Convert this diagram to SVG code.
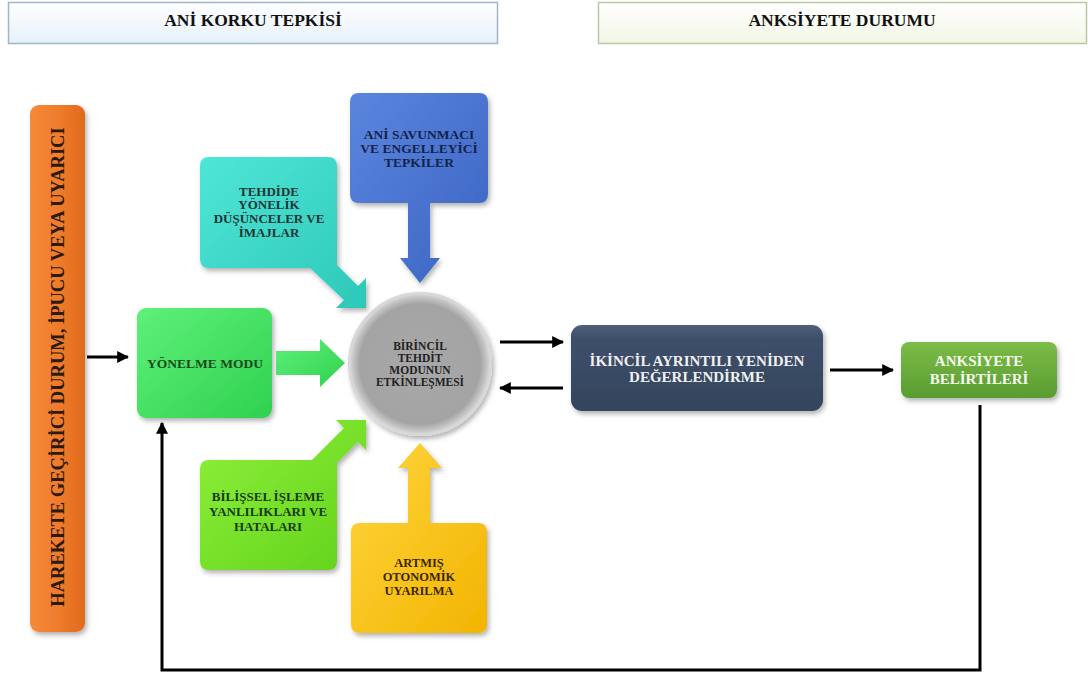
<svg xmlns="http://www.w3.org/2000/svg" width="1088" height="677" viewBox="0 0 1088 677">
<defs>
<style>
.t{font-family:"Liberation Serif","Times New Roman",serif;font-weight:bold;text-anchor:middle}
.hd{font-size:17.5px;fill:#111}
.sm{font-size:13px}
.ln{fill:none;stroke:#000;stroke-width:3}
</style>
<linearGradient id="gHdL" x1="0" y1="0" x2="0" y2="1"><stop offset="0" stop-color="#ffffff"/><stop offset="1" stop-color="#e6f0fa"/></linearGradient>
<linearGradient id="gHdR" x1="0" y1="0" x2="0" y2="1"><stop offset="0" stop-color="#ffffff"/><stop offset="1" stop-color="#f2f6e6"/></linearGradient>
<linearGradient id="gOr" x1="0" y1="0" x2="1" y2="0"><stop offset="0" stop-color="#f58a3c"/><stop offset="0.5" stop-color="#f07c2c"/><stop offset="1" stop-color="#e06a1c"/></linearGradient>
<linearGradient id="gGr" x1="0" y1="0" x2="1" y2="1"><stop offset="0" stop-color="#5ff07a"/><stop offset="1" stop-color="#2fd14f"/></linearGradient>
<linearGradient id="gTe" x1="0" y1="0" x2="1" y2="1"><stop offset="0" stop-color="#4fe6d6"/><stop offset="1" stop-color="#2cc8b8"/></linearGradient>
<linearGradient id="gBl" x1="0" y1="0" x2="1" y2="1"><stop offset="0" stop-color="#5b86de"/><stop offset="1" stop-color="#3a63c2"/></linearGradient>
<linearGradient id="gLi" x1="0" y1="0" x2="1" y2="1"><stop offset="0" stop-color="#8ef03c"/><stop offset="1" stop-color="#62d21a"/></linearGradient>
<linearGradient id="gYe" x1="0" y1="0" x2="1" y2="1"><stop offset="0" stop-color="#ffd640"/><stop offset="1" stop-color="#f2b400"/></linearGradient>
<linearGradient id="gSl" x1="0" y1="0" x2="0" y2="1"><stop offset="0" stop-color="#4d607c"/><stop offset="0.15" stop-color="#3e506b"/><stop offset="1" stop-color="#34445c"/></linearGradient>
<linearGradient id="gAn" x1="0" y1="0" x2="0" y2="1"><stop offset="0" stop-color="#7cbc48"/><stop offset="1" stop-color="#5a9c30"/></linearGradient>
<radialGradient id="gCi" cx="0.5" cy="0.5" r="0.5"><stop offset="0" stop-color="#a8a8a8"/><stop offset="0.85" stop-color="#a4a4a4"/><stop offset="0.95" stop-color="#c8c8c8"/><stop offset="1" stop-color="#e0e0e0"/></radialGradient>
<filter id="sh" x="-10%" y="-10%" width="130%" height="130%"><feDropShadow dx="2" dy="3" stdDeviation="2.5" flood-color="#000" flood-opacity="0.3"/></filter>
<marker id="ah" viewBox="0 0 10 10" refX="9" refY="5" markerWidth="4" markerHeight="4" orient="auto-start-reverse"><path d="M0,0 L10,5 L0,10 z" fill="#000"/></marker>
</defs>

<g id="header-left">
<rect x="8.5" y="2.5" width="489" height="41" fill="url(#gHdL)" stroke="#9fb6c8" stroke-width="1.5"/>
<text class="t hd" x="253" y="26">ANİ KORKU TEPKİSİ</text>
</g>
<g id="header-right">
<rect x="598.5" y="2.5" width="488" height="41" fill="url(#gHdR)" stroke="#b9c9a3" stroke-width="1.5"/>
<text class="t hd" x="842" y="26">ANKSİYETE DURUMU</text>
</g>

<g id="tetikleyici">
<rect x="30" y="105" width="55" height="527" rx="9" fill="url(#gOr)" filter="url(#sh)"/>
<text class="t" font-size="18.5" fill="#2a1a10" transform="translate(64,367) rotate(-90)">HAREKETE GEÇİRİCİ DURUM, İPUCU VEYA UYARICI</text>
</g>

<g id="yonelme">
<rect x="137" y="308" width="135" height="110" rx="9" fill="url(#gGr)" filter="url(#sh)"/>
<text class="t" font-size="13.5" fill="#1c4a1c" x="205" y="368">YÖNELME  MODU</text>
<polygon points="276,351 320,351 320,339 345,363 320,387 320,375 276,375" fill="url(#gGr)"/>
</g>

<g id="tehdide">
<path d="M209,157 H328 Q337,157 337,166 V265 L358,286 L366,278 V308 H336 L344,300 L310,268 H209 Q200,268 200,259 V166 Q200,157 209,157 Z" fill="url(#gTe)" filter="url(#sh)"/>
<g class="t sm" fill="#1d3434">
<text x="269" y="196">TEHDİDE</text>
<text x="269" y="209">YÖNELİK</text>
<text x="269" y="223">DÜŞÜNCELER VE</text>
<text x="269" y="237">İMAJLAR</text>
</g>
</g>

<g id="savunmaci">
<path d="M359,93 H479 Q488,93 488,102 V194 Q488,203 479,203 H430 V258 H440 L420,283 L400,258 H408 V203 H359 Q350,203 350,194 V102 Q350,93 359,93 Z" fill="url(#gBl)" filter="url(#sh)"/>
<g class="t" font-size="13.5" fill="#16224a">
<text x="419" y="139">ANİ SAVUNMACI</text>
<text x="419" y="153">VE ENGELLEYİCİ</text>
<text x="419" y="167">TEPKİLER</text>
</g>
</g>

<g id="bilissel">
<path d="M209,460 H312 L344,428 L336,420 H366 V450 L358,442 L337,463 V561 Q337,570 328,570 H209 Q200,570 200,561 V469 Q200,460 209,460 Z" fill="url(#gLi)" filter="url(#sh)"/>
<g class="t" font-size="13" fill="#173a10">
<text x="268" y="501">BİLİŞSEL İŞLEME</text>
<text x="268" y="516">YANLILIKLARI  VE</text>
<text x="268" y="531">HATALARI</text>
</g>
</g>

<g id="otonomik">
<path d="M360,523 H408 V468 H398 L420,443 L442,468 H430 V523 H478 Q487,523 487,532 V624 Q487,633 478,633 H360 Q351,633 351,624 V532 Q351,523 360,523 Z" fill="url(#gYe)" filter="url(#sh)"/>
<g class="t" font-size="12.5" fill="#3a2800">
<text x="419" y="567">ARTMIŞ</text>
<text x="419" y="581">OTONOMİK</text>
<text x="419" y="595">UYARILMA</text>
</g>
</g>

<g id="birincil">
<circle cx="420" cy="364" r="71" fill="url(#gCi)" stroke="#d8d8d8" stroke-width="2" filter="url(#sh)"/>
<g class="t" font-size="11.5" fill="#222">
<text x="420" y="350">BİRİNCİL</text>
<text x="420" y="362">TEHDİT</text>
<text x="420" y="374">MODUNUN</text>
<text x="420" y="386">ETKİNLEŞMESİ</text>
</g>
</g>

<g id="ikincil">
<rect x="571" y="325" width="252" height="86" rx="11" fill="url(#gSl)" filter="url(#sh)"/>
<g class="t" font-size="15" fill="#f0f0f0">
<text x="697" y="366">İKİNCİL AYRINTILI YENİDEN</text>
<text x="697" y="382">DEĞERLENDİRME</text>
</g>
</g>

<g id="belirtiler">
<rect x="901" y="342" width="156" height="56" rx="8" fill="url(#gAn)" filter="url(#sh)"/>
<g class="t" font-size="15" fill="#f4fbef">
<text x="979" y="366">ANKSİYETE</text>
<text x="979" y="384">BELİRTİLERİ</text>
</g>
</g>

<g id="connectors">
<line class="ln" x1="87" y1="357" x2="128" y2="357" marker-end="url(#ah)"/>
<line class="ln" x1="500" y1="342" x2="563" y2="342" marker-end="url(#ah)"/>
<line class="ln" x1="563" y1="388" x2="500" y2="388" marker-end="url(#ah)"/>
<line class="ln" x1="830" y1="370" x2="893" y2="370" marker-end="url(#ah)"/>
<polyline class="ln" points="980,405 980,670 162,670 162,423" marker-end="url(#ah)"/>
</g>
</svg>
